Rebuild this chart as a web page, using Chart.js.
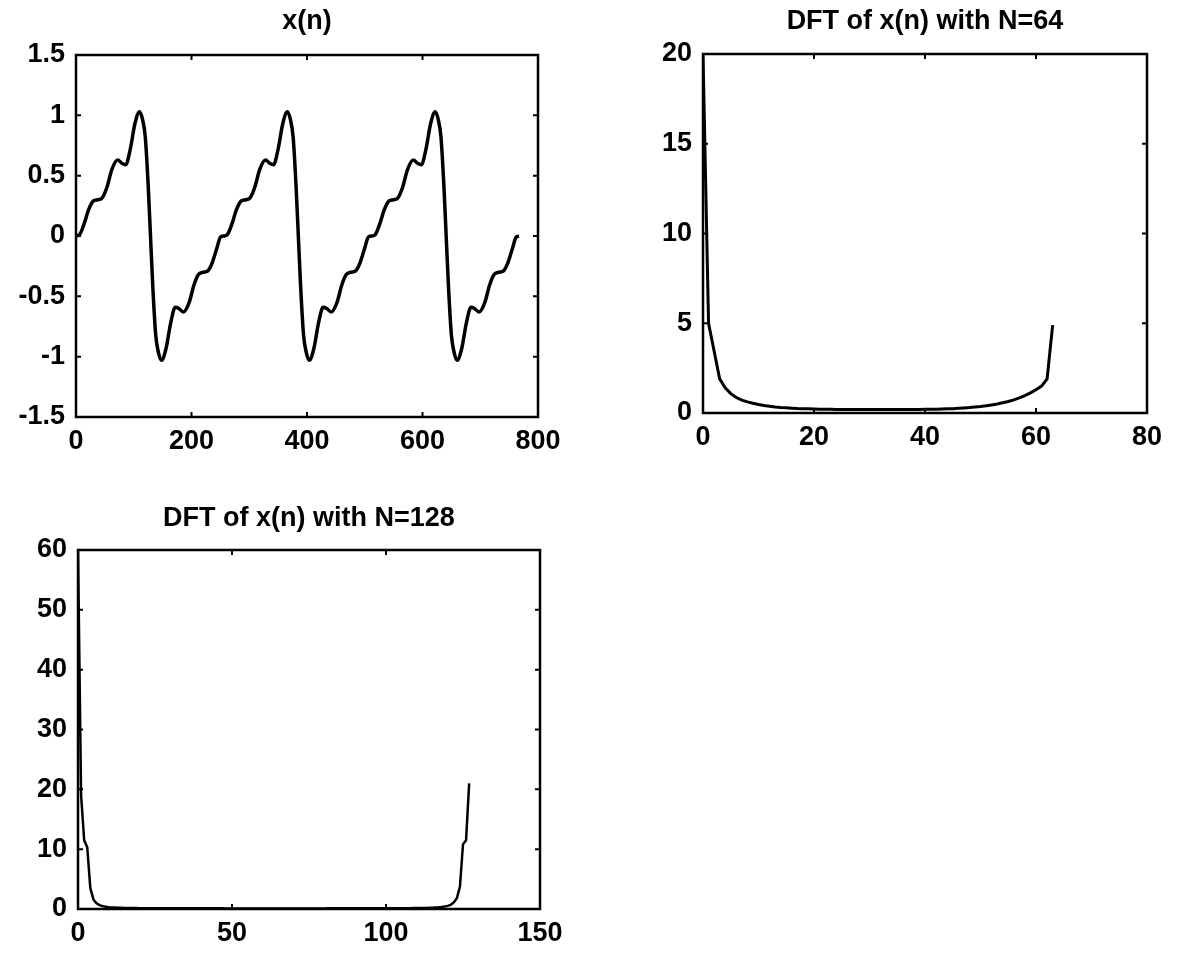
<!DOCTYPE html>
<html lang="en">
  <head>
    <meta charset="UTF-8" />
    <title>x(n) and its DFT</title>
    <script src="https://cdn.jsdelivr.net/npm/chart.js@4"></script>
    <style>
      body { margin: 0; background: #fff; }
      #page { position: relative; width: 1197px; height: 953px; background: #fff; }
      canvas { position: absolute; }
    </style>
  </head>
  <body>
    <div id="page">
      <canvas id="sig" width="600" height="470" style="left:0;top:0"></canvas>
      <canvas id="dft64" width="597" height="470" style="left:600px;top:0"></canvas>
      <canvas id="dft128" width="600" height="473" style="left:0;top:480px"></canvas>
    </div>

    <script>
      // x(n): sample positions and values (three periods)
      const sigN = [
        0, 6, 14, 22, 30, 38, 46, 54, 62, 72, 80, 86, 94, 102, 110, 115, 120, 125, 129, 133, 138, 143, 148, 156, 164, 172, 178, 186, 196, 204, 212, 220, 228, 236, 244, 250,
        256, 262, 270, 278, 286, 294, 302, 310, 318, 328, 336, 342, 350, 358, 366, 371, 376, 381, 385, 389, 394, 399, 404, 412, 420, 428, 434, 442, 452, 460, 468, 476, 484, 492, 500, 506,
        512, 518, 526, 534, 542, 550, 558, 566, 574, 584, 592, 598, 606, 614, 622, 627, 632, 637, 641, 645, 650, 655, 660, 668, 676, 684, 690, 698, 708, 716, 724, 732, 740, 748, 756, 762,
        767
      ];
      const sigX = [
        0.00, 0.01, 0.10, 0.22, 0.29, 0.30, 0.32, 0.41, 0.55, 0.63, 0.60, 0.59, 0.72, 0.93, 1.03, 0.97, 0.82, 0.42, 0.00, -0.42, -0.82, -0.97, -1.03, -0.93, -0.72, -0.59, -0.60, -0.63, -0.55, -0.41, -0.32, -0.30, -0.29, -0.22, -0.10, -0.01,
        0.00, 0.01, 0.10, 0.22, 0.29, 0.30, 0.32, 0.41, 0.55, 0.63, 0.60, 0.59, 0.72, 0.93, 1.03, 0.97, 0.82, 0.42, 0.00, -0.42, -0.82, -0.97, -1.03, -0.93, -0.72, -0.59, -0.60, -0.63, -0.55, -0.41, -0.32, -0.30, -0.29, -0.22, -0.10, -0.01,
        0.00, 0.01, 0.10, 0.22, 0.29, 0.30, 0.32, 0.41, 0.55, 0.63, 0.60, 0.59, 0.72, 0.93, 1.03, 0.97, 0.82, 0.42, 0.00, -0.42, -0.82, -0.97, -1.03, -0.93, -0.72, -0.59, -0.60, -0.63, -0.55, -0.41, -0.32, -0.30, -0.29, -0.22, -0.10, -0.01,
        0.00
      ];

      // |X(k)| for N=64, k = 0..63
      const dft64 = [
        20, 5.0, 3.45, 1.9, 1.4, 1.08, 0.86, 0.72, 0.62, 0.54, 0.47, 0.42, 0.38, 0.34, 0.31, 0.29,
        0.27, 0.25, 0.24, 0.23, 0.22, 0.21, 0.21, 0.21, 0.20, 0.20, 0.20, 0.20, 0.20, 0.20, 0.20, 0.20,
        0.20, 0.20, 0.20, 0.20, 0.20, 0.20, 0.20, 0.20, 0.21, 0.21, 0.21, 0.22, 0.23, 0.24, 0.26, 0.28,
        0.30, 0.33, 0.36, 0.40, 0.45, 0.50, 0.57, 0.64, 0.73, 0.84, 0.97, 1.12, 1.3, 1.5, 1.9, 4.9
      ];

      // |X(k)| for N=128, k = 0..127
      const dft128 = [
        60, 19, 11.5, 10.3, 3.5, 1.6, 0.95, 0.65, 0.48, 0.38, 0.31, 0.27, 0.24, 0.21, 0.19, 0.17,
        0.16, 0.16, 0.15, 0.15, 0.14, 0.14, 0.14, 0.13, 0.13, 0.13, 0.13, 0.12, 0.12, 0.12, 0.12, 0.12,
        0.11, 0.11, 0.11, 0.11, 0.11, 0.11, 0.11, 0.11, 0.11, 0.11, 0.11, 0.11, 0.11, 0.11, 0.11, 0.11,
        0.10, 0.10, 0.10, 0.10, 0.10, 0.10, 0.10, 0.10, 0.10, 0.10, 0.10, 0.10, 0.10, 0.10, 0.10, 0.10,
        0.10, 0.10, 0.10, 0.10, 0.10, 0.10, 0.10, 0.10, 0.10, 0.10, 0.10, 0.10, 0.10, 0.10, 0.10, 0.10,
        0.10, 0.11, 0.11, 0.11, 0.11, 0.11, 0.11, 0.11, 0.11, 0.11, 0.11, 0.11, 0.11, 0.11, 0.11, 0.11,
        0.11, 0.12, 0.12, 0.12, 0.12, 0.12, 0.13, 0.13, 0.13, 0.13, 0.14, 0.14, 0.14, 0.15, 0.15, 0.16,
        0.17, 0.18, 0.20, 0.22, 0.25, 0.28, 0.33, 0.40, 0.52, 0.70, 1.1, 1.8, 3.7, 10.8, 11.5, 21
      ];
      const k64 = Array.from({ length: dft64.length }, (_, k) => k);
      const k128 = Array.from({ length: dft128.length }, (_, k) => k);

      Chart.defaults.font.family = "'Liberation Sans', Arial, Helvetica, sans-serif";
      Chart.defaults.color = '#000';

      // box around the axes with small inward ticks on all four sides
      const matlabBox = {
        id: 'matlabBox',
        afterDatasetsDraw(chart) {
          const { ctx, chartArea: a } = chart;
          const x = chart.scales.x, y = chart.scales.y;
          ctx.save();
          ctx.strokeStyle = '#000';
          ctx.lineWidth = 2.5;
          ctx.strokeRect(a.left, a.top, a.right - a.left, a.bottom - a.top);
          ctx.lineWidth = 2;
          ctx.beginPath();
          x.ticks.forEach(t => {
            const px = x.getPixelForValue(t.value);
            ctx.moveTo(px, a.bottom); ctx.lineTo(px, a.bottom - 5);
            ctx.moveTo(px, a.top); ctx.lineTo(px, a.top + 5);
          });
          y.ticks.forEach(t => {
            const py = y.getPixelForValue(t.value);
            ctx.moveTo(a.left, py); ctx.lineTo(a.left + 5, py);
            ctx.moveTo(a.right, py); ctx.lineTo(a.right - 5, py);
          });
          ctx.stroke();
          ctx.restore();
        }
      };

      function makePlot(id, opts) {
        const ctx = document.getElementById(id).getContext('2d');
        return new Chart(ctx, {
          type: 'line',
          data: {
            labels: opts.xs,
            datasets: [{
              data: opts.ys,
              borderColor: '#000',
              borderWidth: opts.lineWidth,
              pointRadius: 0,
              fill: false,
              tension: 0,
              cubicInterpolationMode: opts.smooth ? 'monotone' : 'default'
            }]
          },
          options: {
            responsive: false,
            animation: false,
            layout: { padding: opts.pad },
            plugins: {
              legend: { display: false },
              tooltip: { enabled: false },
              title: {
                display: true,
                text: opts.title,
                fullSize: false,
                font: { size: 27, weight: 'bold' },
                padding: opts.titlePad
              }
            },
            scales: {
              x: {
                type: 'linear',
                min: opts.xMin, max: opts.xMax,
                grid: { display: false, drawTicks: false },
                border: { display: false },
                ticks: {
                  stepSize: opts.xStep,
                  padding: 8,
                  maxRotation: 0,
                  font: { size: 27, weight: 'bold' },
                  callback: v => String(v)
                },
                afterFit: s => { s.height = opts.xH; }
              },
              y: {
                min: opts.yMin, max: opts.yMax,
                grid: { display: false, drawTicks: false },
                border: { display: false },
                ticks: {
                  stepSize: opts.yStep,
                  padding: 11,
                  font: { size: 27, weight: 'bold' },
                  callback: v => String(v)
                },
                afterFit: s => { s.width = opts.yW; }
              }
            }
          },
          plugins: [matlabBox]
        });
      }

      makePlot('sig', {
        xs: sigN, ys: sigX, title: 'x(n)', smooth: true, lineWidth: 3.5,
        xMin: 0, xMax: 800, xStep: 200, yMin: -1.5, yMax: 1.5, yStep: 0.5,
        yW: 76, xH: 45, pad: { left: 0, top: 0, right: 62, bottom: 8 },
        titlePad: { top: 5.8, bottom: 16.8 }
      });

      makePlot('dft64', {
        xs: k64, ys: dft64, title: 'DFT of x(n) with N=64', smooth: false, lineWidth: 3,
        xMin: 0, xMax: 80, xStep: 20, yMin: 0, yMax: 20, yStep: 5,
        yW: 103, xH: 45, pad: { left: 0, top: 0, right: 50, bottom: 12 },
        titlePad: { top: 5.8, bottom: 15.8 }
      });

      makePlot('dft128', {
        xs: k128, ys: dft128, title: 'DFT of x(n) with N=128', smooth: false, lineWidth: 2.5,
        xMin: 0, xMax: 150, xStep: 50, yMin: 0, yMax: 60, yStep: 10,
        yW: 78, xH: 40, pad: { left: 0, top: 0, right: 60, bottom: 4 },
        titlePad: { top: 22.8, bottom: 14.8 }
      });
    </script>
  </body>
</html>
